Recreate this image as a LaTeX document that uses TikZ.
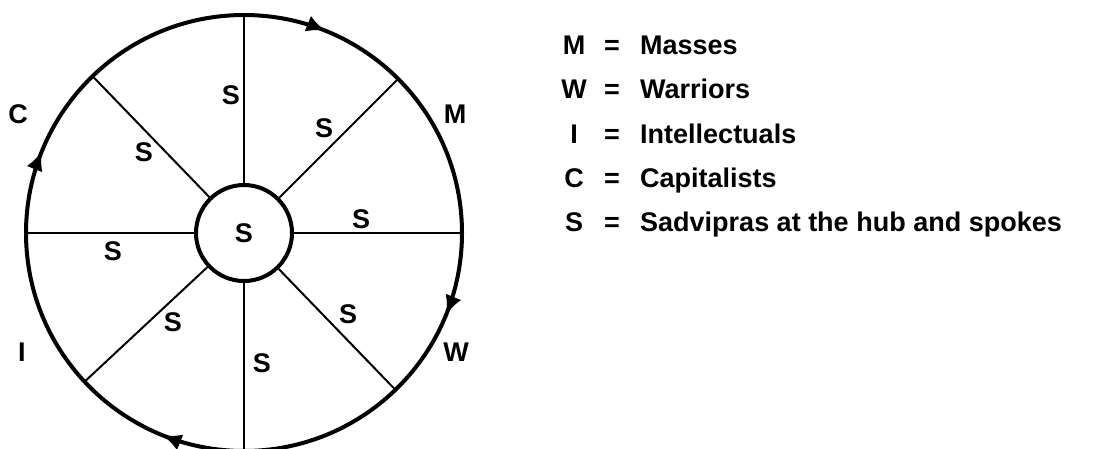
\documentclass[tikz,border=0pt]{standalone}
\usepackage{fontspec}
\setmainfont{Liberation Sans}
\usetikzlibrary{arrows.meta, positioning, decorations.markings}

\begin{document}
\begin{tikzpicture}[
		x=1pt, y=-1pt,
		txt/.style={font=\fontsize{27}{32}\selectfont\bfseries, inner sep=0pt,
			text height=19.3pt, text depth=0pt},
		rim/.style={draw, circle, line width=4pt, minimum size=436pt,
			inner sep=0pt, outer sep=0pt},
		hubc/.style={draw, circle, line width=4pt, minimum size=96pt,
			inner sep=0pt, outer sep=0pt, txt},
		spoke/.style={line width=2pt},
		turn/.style={decoration={markings,
				mark=at position 0.189 with {\arrowreversed{Latex[length=19pt,width=17pt]}},
				mark=at position 0.439 with {\arrowreversed{Latex[length=19pt,width=17pt]}},
				mark=at position 0.689 with {\arrowreversed{Latex[length=19pt,width=17pt]}},
				mark=at position 0.939 with {\arrowreversed{Latex[length=19pt,width=17pt]}}},
			postaction={decorate}},
	]
		\useasboundingbox (0,0) rectangle (1110,448);

		% wheel
		\node[rim, turn] (rim) at (244,233) {};
		\node[hubc] (hub) at (244,233) {S};

		% spokes
		\foreach \a in {0,45,90,134,180,223,270,314}
			\draw[spoke] (hub.\a) -- (rim.\a);

		% spoke labels
		\node[txt] (s1) at (231,95) {S};
		\node[txt] (s2) at (324,128) {S};
		\node[txt] (s3) at (144,152) {S};
		\node[txt] (s4) at (361,219) {S};
		\node[txt] (s5) at (113,251) {S};
		\node[txt] (s6) at (348,314) {S};
		\node[txt] (s7) at (173,322) {S};
		\node[txt] (s8) at (262,363) {S};

		% classes round the rim
		\node[txt] (cm) at (455,114) {M};
		\node[txt] (cw) at (456,352) {W};
		\node[txt] (ci) at (22,352) {I};
		\node[txt] (cc) at (18,114) {C};

		% legend
		\node[txt] (km) at (574,45) {M};
		\node[txt] (kw) at (574,89) {W};
		\node[txt] (ki) at (574,134) {I};
		\node[txt] (kc) at (574,178) {C};
		\node[txt] (ks) at (574,222) {S};
		\node[txt] (em) at (612,45) {=};
		\node[txt] (ew) at (612,89) {=};
		\node[txt] (ei) at (612,134) {=};
		\node[txt] (ec) at (612,178) {=};
		\node[txt] (es) at (612,222) {=};
		\node[txt, anchor=west] (tm) at (640,45) {Masses};
		\node[txt, anchor=west] (tw) at (640,89) {Warriors};
		\node[txt, anchor=west] (ti) at (640,134) {Intellectuals};
		\node[txt, anchor=west] (tc) at (640,178) {Capitalists};
		\node[txt, anchor=west] (ts) at (640,222) {Sadvipras at the hub and spokes};
	\end{tikzpicture}
\end{document}
